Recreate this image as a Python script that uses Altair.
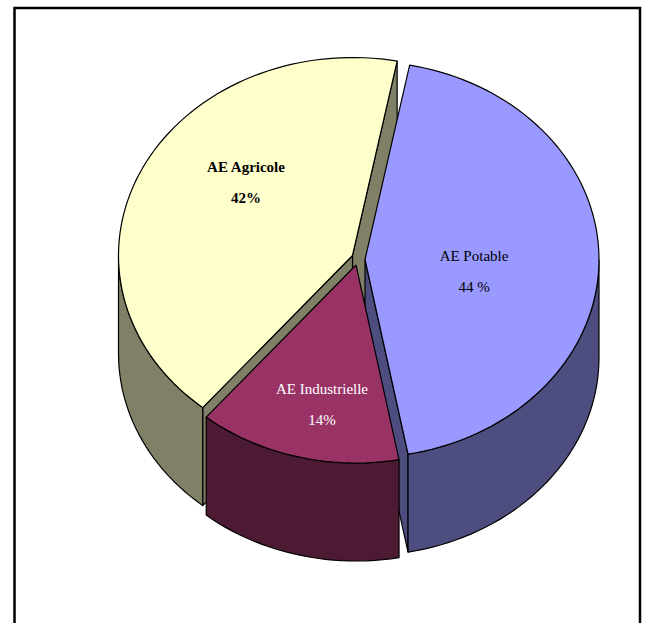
import math
import altair as alt
import pandas as pd

# Water-use shares (AE = alimentation en eau)
names = ["AE Potable", "AE Industrielle", "AE Agricole"]
shares = [44, 14, 42]
share_labels = ["44 %", "14%", "42%"]

top_colors = ["#9999FF", "#993366", "#FFFFCC"]
side_colors = ["#4D4D80", "#4D1A33", "#808066"]
text_colors = ["black", "white", "black"]
text_weights = ["normal", "normal", "bold"]

WIDTH, HEIGHT = 647, 623
RX, RY, DEPTH = 234, 198, 98
START = 11.0  # clockwise from 12 o'clock
apexes = [(365, 259.5), (356, 265), (352.5, 255.5)]  # exploded slice tips
label_anchors = [(474, 256), (322, 389), (246, 167)]
LINE_GAP = 30.5


def rim(apex, deg):
    rad = math.radians(deg)
    return apex[0] + RX * math.sin(rad), apex[1] - RY * math.cos(rad)


def arc(apex, a0, a1, step=2.0):
    n = max(2, int(abs(a1 - a0) / step) + 1)
    return [rim(apex, a0 + (a1 - a0) * i / (n - 1)) for i in range(n)]


def drop(points):
    return [(x, y + DEPTH) for x, y in points]


def polygon(points, fill):
    pts = list(points) + [points[0]]
    df = pd.DataFrame({"px": [p[0] for p in pts], "py": [p[1] for p in pts], "seq": range(len(pts))})
    return (
        alt.Chart(df)
        .mark_line(fill=fill, stroke="black", strokeWidth=1.2, strokeJoin="round", interpolate="linear")
        .encode(x=x_enc, y=y_enc, order="seq:Q")
    )


x_enc = alt.X("px:Q", scale=alt.Scale(domain=[0, WIDTH], nice=False, zero=False), axis=None)
y_enc = alt.Y("py:Q", scale=alt.Scale(domain=[HEIGHT, 0], nice=False, zero=False), axis=None)

# Slice boundaries, in degrees clockwise
edges = [START]
for s in shares:
    edges.append(edges[-1] + s * 3.6)
(p0, p1), (i0, i1), (a0, a1) = zip(edges[:3], edges[1:4])
pot, ind, agr = apexes

layers = []

# Agricole: both cut faces, visible outer wall, top
a_start = rim(agr, a1)
a_end = rim(agr, a0)
layers.append(polygon([agr, a_start, (a_start[0], a_start[1] + DEPTH), (agr[0], agr[1] + DEPTH)], side_colors[2]))
layers.append(polygon([agr, a_end, (a_end[0], a_end[1] + DEPTH), (agr[0], agr[1] + DEPTH)], side_colors[2]))
wall = arc(agr, a0, 270)
layers.append(polygon(wall + drop(wall)[::-1], side_colors[2]))
layers.append(polygon([agr] + arc(agr, a0, a1), top_colors[2]))

# Potable: cut face and outer wall sit behind the Industrielle slice
p_end = rim(pot, p1)
layers.append(polygon([pot, p_end, (p_end[0], p_end[1] + DEPTH), (pot[0], pot[1] + DEPTH)], side_colors[0]))
wall = arc(pot, 90, p1)
layers.append(polygon(wall + drop(wall)[::-1], side_colors[0]))

# Industrielle: outer wall and top
wall = arc(ind, i0, i1)
layers.append(polygon(wall + drop(wall)[::-1], side_colors[1]))
layers.append(polygon([ind] + arc(ind, i0, i1), top_colors[1]))

# Potable top goes last so it overlaps its neighbours
layers.append(polygon([pot] + arc(pot, p0, p1), top_colors[0]))

# Page frame, open at the bottom edge
frame = pd.DataFrame({"px": [14.5, 14.5, 640, 640], "py": [623, 8, 8, 623], "seq": [0, 1, 2, 3]})
layers.append(
    alt.Chart(frame)
    .mark_line(stroke="black", strokeWidth=2.5, strokeJoin="miter")
    .encode(x=x_enc, y=y_enc, order="seq:Q")
)

# Slice captions: name on one line, share below it
for name, share, anchor, col, weight in zip(names, share_labels, label_anchors, text_colors, text_weights):
    df = pd.DataFrame(
        {"px": [anchor[0], anchor[0]], "py": [anchor[1], anchor[1] + LINE_GAP], "txt": [name, share]}
    )
    layers.append(
        alt.Chart(df)
        .mark_text(font="Liberation Serif", fontSize=15, color=col, fontWeight=weight, align="center", baseline="middle")
        .encode(x=x_enc, y=y_enc, text="txt:N")
    )

chart = (
    alt.layer(*layers)
    .properties(width=WIDTH, height=HEIGHT, padding=0, background="white", autosize=alt.AutoSizeParams(type="none"))
    .configure_view(stroke=None)
)

chart.save("out.html", embed_options={"renderer": "svg", "actions": False})
